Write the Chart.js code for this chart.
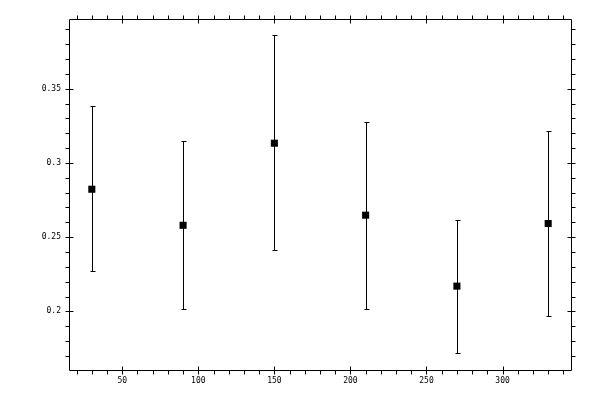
<!DOCTYPE html>
<html>
<head>
<meta charset="utf-8">
<script src="https://cdn.jsdelivr.net/npm/chart.js@4/dist/chart.umd.min.js"></script>
<style>
  html, body { margin: 0; padding: 0; background: #fff; }
  #wrap { width: 600px; height: 400px; }
</style>
</head>
<body>
<div id="wrap"><canvas id="chart"></canvas></div>
<script>
// data
const xValues = [30, 90, 150, 210, 270, 330];
const yValues = [0.2823, 0.2580, 0.3133, 0.2648, 0.2170, 0.2592];
const yUpper = [0.3384, 0.3146, 0.3860, 0.3274, 0.2615, 0.3214];
const yLower = [0.2270, 0.2013, 0.2412, 0.2015, 0.1719, 0.1966];

const xMajorTicks = [50, 100, 150, 200, 250, 300];
const xMinorTicks = [20, 30, 40, 60, 70, 80, 90, 110, 120, 130, 140, 160, 170, 180, 190,
    210, 220, 230, 240, 260, 270, 280, 290, 310, 320, 330, 340];
const yMajorTicks = [0.2, 0.25, 0.3, 0.35];
const yTickLabels = ["0.2", "0.25", "0.3", "0.35"];
const yMinorTicks = [0.17, 0.18, 0.19, 0.21, 0.22, 0.23, 0.24, 0.26, 0.27, 0.28, 0.29,
    0.31, 0.32, 0.33, 0.34, 0.36, 0.37, 0.38, 0.39];

const points = xValues.map((x, i) => ({ x: x, y: yValues[i] }));

// draws frame, ticks, labels and error bars from the scales
const framePlugin = {
    id: "frame",
    afterDatasetsDraw(chart) {
        const ctx = chart.ctx;
        const a = chart.chartArea;
        const xs = chart.scales.x;
        const ys = chart.scales.y;
        ctx.save();
        ctx.strokeStyle = "#000";
        ctx.lineWidth = 1;
        ctx.translate(0.5, 0.5);

        const L = Math.round(a.left), R = Math.round(a.right);
        const T = Math.round(a.top), B = Math.round(a.bottom);
        ctx.beginPath();
        ctx.rect(L, T, R - L, B - T);
        ctx.stroke();

        ctx.beginPath();
        xMajorTicks.forEach(v => {
            const px = Math.round(xs.getPixelForValue(v));
            ctx.moveTo(px, B - 4); ctx.lineTo(px, B + 4);
            ctx.moveTo(px, T - 4); ctx.lineTo(px, T + 4);
        });
        xMinorTicks.forEach(v => {
            const px = Math.round(xs.getPixelForValue(v));
            ctx.moveTo(px, B); ctx.lineTo(px, B + 4);
            ctx.moveTo(px, T); ctx.lineTo(px, T - 4);
        });
        yMajorTicks.forEach(v => {
            const py = Math.round(ys.getPixelForValue(v));
            ctx.moveTo(L - 4, py); ctx.lineTo(L + 4, py);
            ctx.moveTo(R - 4, py); ctx.lineTo(R + 4, py);
        });
        yMinorTicks.forEach(v => {
            const py = Math.round(ys.getPixelForValue(v));
            ctx.moveTo(L, py); ctx.lineTo(L - 4, py);
            ctx.moveTo(R, py); ctx.lineTo(R + 4, py);
        });
        ctx.stroke();

        // error bars
        ctx.beginPath();
        xValues.forEach((x, i) => {
            const px = Math.round(xs.getPixelForValue(x));
            const pu = Math.round(ys.getPixelForValue(yUpper[i]));
            const pl = Math.round(ys.getPixelForValue(yLower[i]));
            ctx.moveTo(px, pu); ctx.lineTo(px, pl);
            ctx.moveTo(px - 2, pu); ctx.lineTo(px + 3, pu);
            ctx.moveTo(px - 2, pl); ctx.lineTo(px + 3, pl);
        });
        ctx.stroke();
        ctx.restore();

        ctx.save();
        ctx.fillStyle = "#000";
        ctx.font = "8px 'DejaVu Sans Mono'";
        ctx.textAlign = "center";
        ctx.textBaseline = "middle";
        xMajorTicks.forEach(v => {
            ctx.fillText(String(v), xs.getPixelForValue(v), B + 11);
        });
        ctx.textAlign = "right";
        yMajorTicks.forEach((v, i) => {
            ctx.fillText(yTickLabels[i], L - 8, ys.getPixelForValue(v));
        });
        ctx.restore();
    }
};

new Chart(document.getElementById("chart"), {
    type: "scatter",
    data: {
        datasets: [{
            data: points,
            pointStyle: "rect",
            pointRadius: 5,
            pointBorderWidth: 0,
            backgroundColor: "#000",
            borderColor: "#000"
        }]
    },
    options: {
        responsive: true,
        maintainAspectRatio: false,
        animation: false,
        layout: { padding: { left: 69, right: 29, top: 19, bottom: 30 } },
        plugins: { legend: { display: false }, tooltip: { enabled: false } },
        scales: {
            x: { type: "linear", min: 15, max: 345, display: false },
            y: { type: "linear", min: 0.1605, max: 0.397, display: false }
        }
    },
    plugins: [framePlugin]
});
</script>
</body>
</html>
